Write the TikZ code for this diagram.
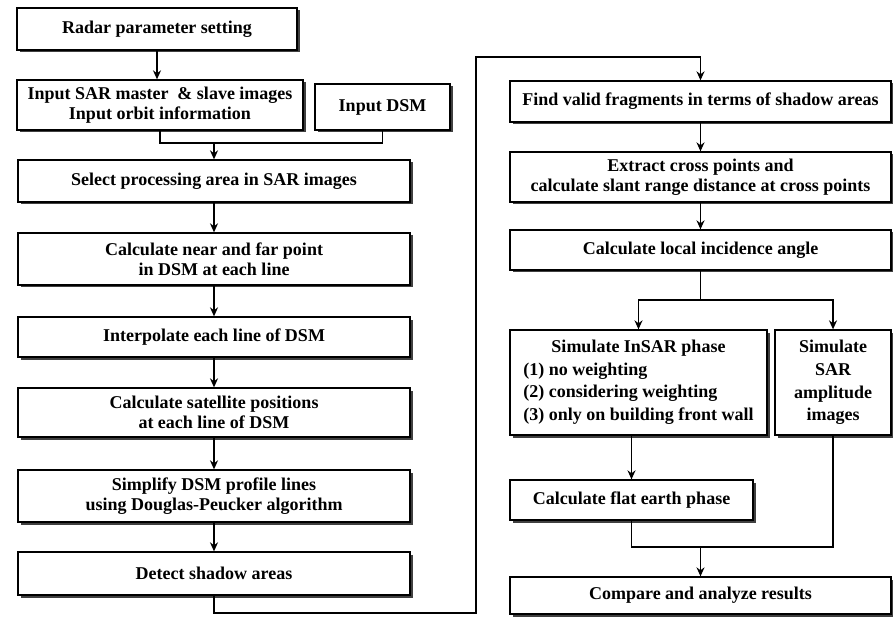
\documentclass[tikz,border=0pt]{standalone}
\usepackage{fontspec}
\setmainfont{Liberation Serif}
\usepackage{tikz}
\usetikzlibrary{arrows.meta,shadows}
\tikzstyle{process}=[rectangle,draw=black,line width=1.3pt,fill=white,
inner sep=1pt,align=center,font=\bfseries\fontsize{18}{20}\selectfont,
drop shadow={shadow xshift=2.5pt,shadow yshift=-2.5pt,fill=black!75,opacity=1}]
\tikzstyle{arrow}=[line width=1.3pt,->,>={Stealth[length=9pt,width=8pt]}]
\tikzstyle{line}=[line width=1.3pt]

\begin{document}
\begin{tikzpicture}[x=1pt,y=-1pt]
    \useasboundingbox (0,0) rectangle (893,617);
        % left column
        \node (radar) [process,minimum width=280pt,minimum height=42pt] at (157,29) {Radar parameter setting};
        \node (sarin) [process,minimum width=286pt,minimum height=50pt] at (160,105) {Input SAR master\ \ \& slave images\\Input orbit information};
        \node (dsmin) [process,minimum width=135pt,minimum height=46pt] at (382.5,107) {Input DSM};
        \node (select) [process,minimum width=392pt,minimum height=42pt] at (214,181) {Select processing area in SAR images};
        \node (near) [process,minimum width=392pt,minimum height=52pt] at (214,259) {Calculate near and far point\\in DSM at each line};
        \node (interp) [process,minimum width=392pt,minimum height=40pt] at (214,337) {Interpolate each line of DSM};
        \node (satpos) [process,minimum width=392pt,minimum height=49pt] at (214,412.5) {Calculate satellite positions\\at each line of DSM};
        \node (simplify) [process,minimum width=392pt,minimum height=52pt] at (214,496) {Simplify DSM profile lines\\using Douglas-Peucker algorithm};
        \node (detect) [process,minimum width=392pt,minimum height=43pt] at (214,573.5) {Detect shadow areas};

        % right column
        \node (find) [process,minimum width=381pt,minimum height=41pt] at (700.5,101.5) {Find valid fragments in terms of shadow areas};
        \node (extract) [process,minimum width=381pt,minimum height=50pt] at (700.5,177) {Extract cross points and\\calculate slant range distance at cross points};
        \node (local) [process,minimum width=381pt,minimum height=40pt] at (700.5,250) {Calculate local incidence angle};
        \node (siminsar) [process,minimum width=257pt,minimum height=105pt] at (638.5,382.5) {\begin{tabular}{@{}l@{}}\multicolumn{1}{@{}c@{}}{Simulate InSAR phase}\\[2.7pt](1) no weighting\\[2.7pt](2) considering weighting\\[2.7pt](3) only on building front wall\end{tabular}};
        \node (simamp) [process,minimum width=116pt,minimum height=105pt] at (833,382.5) {Simulate\\[2.7pt]SAR\\[2.7pt]amplitude\\[2.7pt]images};
        \node (flat) [process,minimum width=243pt,minimum height=40pt] at (631.5,500) {Calculate flat earth phase};
        \node (compare) [process,minimum width=381pt,minimum height=37pt] at (700.5,595.5) {Compare and analyze results};

        \coordinate (m1) at (214,143);
        \coordinate (l1) at (476,613);
        \coordinate (l2) at (476,57);
        \coordinate (b1) at (700.5,300);
        \coordinate (m2) at (700.5,547);

        \draw [arrow] (radar.south) -- (radar.south |- sarin.north);
        \draw [line] (sarin.south) |- (m1) -| (dsmin.south);
        \draw [arrow] (m1) -- (select);
        \draw [arrow] (select) -- (near);
        \draw [arrow] (near) -- (interp);
        \draw [arrow] (interp) -- (satpos);
        \draw [arrow] (satpos) -- (simplify);
        \draw [arrow] (simplify) -- (detect);
        \draw [arrow] (detect.south) |- (l1) -- (l2) -| (find.north);

        \draw [arrow] (find) -- (extract);
        \draw [arrow] (extract) -- (local);
        \draw [line] (local.south) -- (b1);
        \draw [arrow] (b1) -| (siminsar.north);
        \draw [arrow] (b1) -| (simamp.north);
        \draw [arrow] (flat.north |- siminsar.south) -- (flat.north);
        \draw [line] (flat.south) |- (m2) -| (simamp.south);
        \draw [arrow] (m2) -- (compare);

    \end{tikzpicture}
\end{document}
